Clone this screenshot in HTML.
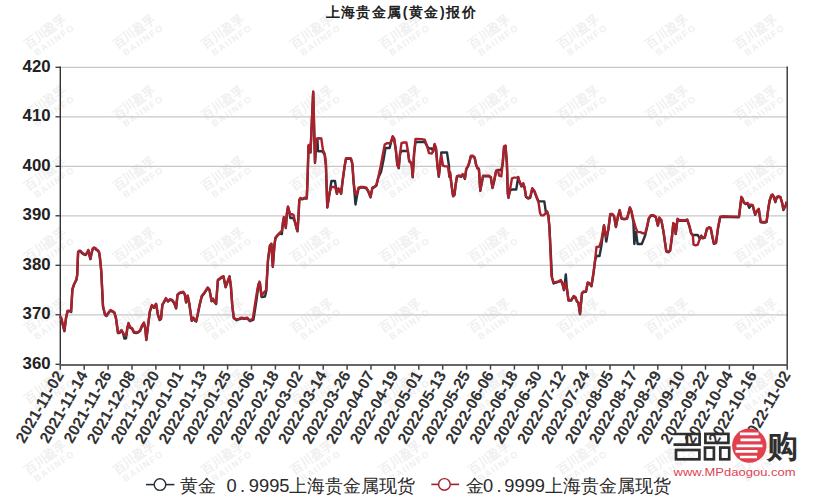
<!DOCTYPE html>
<html><head><meta charset="utf-8"><style>
html,body{margin:0;padding:0;background:#fff;}
svg{display:block;font-family:"Liberation Sans",sans-serif;}
</style></head><body>
<svg width="820" height="500" viewBox="0 0 820 500">
<g transform="translate(48.0,36.0) rotate(-35)" fill="#f0f0f0" font-family="Liberation Sans"><text x="0" y="-1" font-size="12.4" text-anchor="middle" font-weight="bold">百川盈孚</text><text x="3" y="10" font-size="9" text-anchor="middle" letter-spacing="1.5" font-weight="bold">BAIINFO</text></g>
<g transform="translate(136.8,36.0) rotate(-35)" fill="#f0f0f0" font-family="Liberation Sans"><text x="0" y="-1" font-size="12.4" text-anchor="middle" font-weight="bold">百川盈孚</text><text x="3" y="10" font-size="9" text-anchor="middle" letter-spacing="1.5" font-weight="bold">BAIINFO</text></g>
<g transform="translate(225.6,36.0) rotate(-35)" fill="#f0f0f0" font-family="Liberation Sans"><text x="0" y="-1" font-size="12.4" text-anchor="middle" font-weight="bold">百川盈孚</text><text x="3" y="10" font-size="9" text-anchor="middle" letter-spacing="1.5" font-weight="bold">BAIINFO</text></g>
<g transform="translate(314.4,36.0) rotate(-35)" fill="#f0f0f0" font-family="Liberation Sans"><text x="0" y="-1" font-size="12.4" text-anchor="middle" font-weight="bold">百川盈孚</text><text x="3" y="10" font-size="9" text-anchor="middle" letter-spacing="1.5" font-weight="bold">BAIINFO</text></g>
<g transform="translate(403.2,36.0) rotate(-35)" fill="#f0f0f0" font-family="Liberation Sans"><text x="0" y="-1" font-size="12.4" text-anchor="middle" font-weight="bold">百川盈孚</text><text x="3" y="10" font-size="9" text-anchor="middle" letter-spacing="1.5" font-weight="bold">BAIINFO</text></g>
<g transform="translate(492.0,36.0) rotate(-35)" fill="#f0f0f0" font-family="Liberation Sans"><text x="0" y="-1" font-size="12.4" text-anchor="middle" font-weight="bold">百川盈孚</text><text x="3" y="10" font-size="9" text-anchor="middle" letter-spacing="1.5" font-weight="bold">BAIINFO</text></g>
<g transform="translate(580.8,36.0) rotate(-35)" fill="#f0f0f0" font-family="Liberation Sans"><text x="0" y="-1" font-size="12.4" text-anchor="middle" font-weight="bold">百川盈孚</text><text x="3" y="10" font-size="9" text-anchor="middle" letter-spacing="1.5" font-weight="bold">BAIINFO</text></g>
<g transform="translate(669.6,36.0) rotate(-35)" fill="#f0f0f0" font-family="Liberation Sans"><text x="0" y="-1" font-size="12.4" text-anchor="middle" font-weight="bold">百川盈孚</text><text x="3" y="10" font-size="9" text-anchor="middle" letter-spacing="1.5" font-weight="bold">BAIINFO</text></g>
<g transform="translate(758.4,36.0) rotate(-35)" fill="#f0f0f0" font-family="Liberation Sans"><text x="0" y="-1" font-size="12.4" text-anchor="middle" font-weight="bold">百川盈孚</text><text x="3" y="10" font-size="9" text-anchor="middle" letter-spacing="1.5" font-weight="bold">BAIINFO</text></g>
<g transform="translate(48.0,107.0) rotate(-35)" fill="#f0f0f0" font-family="Liberation Sans"><text x="0" y="-1" font-size="12.4" text-anchor="middle" font-weight="bold">百川盈孚</text><text x="3" y="10" font-size="9" text-anchor="middle" letter-spacing="1.5" font-weight="bold">BAIINFO</text></g>
<g transform="translate(136.8,107.0) rotate(-35)" fill="#f0f0f0" font-family="Liberation Sans"><text x="0" y="-1" font-size="12.4" text-anchor="middle" font-weight="bold">百川盈孚</text><text x="3" y="10" font-size="9" text-anchor="middle" letter-spacing="1.5" font-weight="bold">BAIINFO</text></g>
<g transform="translate(225.6,107.0) rotate(-35)" fill="#f0f0f0" font-family="Liberation Sans"><text x="0" y="-1" font-size="12.4" text-anchor="middle" font-weight="bold">百川盈孚</text><text x="3" y="10" font-size="9" text-anchor="middle" letter-spacing="1.5" font-weight="bold">BAIINFO</text></g>
<g transform="translate(314.4,107.0) rotate(-35)" fill="#f0f0f0" font-family="Liberation Sans"><text x="0" y="-1" font-size="12.4" text-anchor="middle" font-weight="bold">百川盈孚</text><text x="3" y="10" font-size="9" text-anchor="middle" letter-spacing="1.5" font-weight="bold">BAIINFO</text></g>
<g transform="translate(403.2,107.0) rotate(-35)" fill="#f0f0f0" font-family="Liberation Sans"><text x="0" y="-1" font-size="12.4" text-anchor="middle" font-weight="bold">百川盈孚</text><text x="3" y="10" font-size="9" text-anchor="middle" letter-spacing="1.5" font-weight="bold">BAIINFO</text></g>
<g transform="translate(492.0,107.0) rotate(-35)" fill="#f0f0f0" font-family="Liberation Sans"><text x="0" y="-1" font-size="12.4" text-anchor="middle" font-weight="bold">百川盈孚</text><text x="3" y="10" font-size="9" text-anchor="middle" letter-spacing="1.5" font-weight="bold">BAIINFO</text></g>
<g transform="translate(580.8,107.0) rotate(-35)" fill="#f0f0f0" font-family="Liberation Sans"><text x="0" y="-1" font-size="12.4" text-anchor="middle" font-weight="bold">百川盈孚</text><text x="3" y="10" font-size="9" text-anchor="middle" letter-spacing="1.5" font-weight="bold">BAIINFO</text></g>
<g transform="translate(669.6,107.0) rotate(-35)" fill="#f0f0f0" font-family="Liberation Sans"><text x="0" y="-1" font-size="12.4" text-anchor="middle" font-weight="bold">百川盈孚</text><text x="3" y="10" font-size="9" text-anchor="middle" letter-spacing="1.5" font-weight="bold">BAIINFO</text></g>
<g transform="translate(758.4,107.0) rotate(-35)" fill="#f0f0f0" font-family="Liberation Sans"><text x="0" y="-1" font-size="12.4" text-anchor="middle" font-weight="bold">百川盈孚</text><text x="3" y="10" font-size="9" text-anchor="middle" letter-spacing="1.5" font-weight="bold">BAIINFO</text></g>
<g transform="translate(48.0,178.0) rotate(-35)" fill="#f0f0f0" font-family="Liberation Sans"><text x="0" y="-1" font-size="12.4" text-anchor="middle" font-weight="bold">百川盈孚</text><text x="3" y="10" font-size="9" text-anchor="middle" letter-spacing="1.5" font-weight="bold">BAIINFO</text></g>
<g transform="translate(136.8,178.0) rotate(-35)" fill="#f0f0f0" font-family="Liberation Sans"><text x="0" y="-1" font-size="12.4" text-anchor="middle" font-weight="bold">百川盈孚</text><text x="3" y="10" font-size="9" text-anchor="middle" letter-spacing="1.5" font-weight="bold">BAIINFO</text></g>
<g transform="translate(225.6,178.0) rotate(-35)" fill="#f0f0f0" font-family="Liberation Sans"><text x="0" y="-1" font-size="12.4" text-anchor="middle" font-weight="bold">百川盈孚</text><text x="3" y="10" font-size="9" text-anchor="middle" letter-spacing="1.5" font-weight="bold">BAIINFO</text></g>
<g transform="translate(314.4,178.0) rotate(-35)" fill="#f0f0f0" font-family="Liberation Sans"><text x="0" y="-1" font-size="12.4" text-anchor="middle" font-weight="bold">百川盈孚</text><text x="3" y="10" font-size="9" text-anchor="middle" letter-spacing="1.5" font-weight="bold">BAIINFO</text></g>
<g transform="translate(403.2,178.0) rotate(-35)" fill="#f0f0f0" font-family="Liberation Sans"><text x="0" y="-1" font-size="12.4" text-anchor="middle" font-weight="bold">百川盈孚</text><text x="3" y="10" font-size="9" text-anchor="middle" letter-spacing="1.5" font-weight="bold">BAIINFO</text></g>
<g transform="translate(492.0,178.0) rotate(-35)" fill="#f0f0f0" font-family="Liberation Sans"><text x="0" y="-1" font-size="12.4" text-anchor="middle" font-weight="bold">百川盈孚</text><text x="3" y="10" font-size="9" text-anchor="middle" letter-spacing="1.5" font-weight="bold">BAIINFO</text></g>
<g transform="translate(580.8,178.0) rotate(-35)" fill="#f0f0f0" font-family="Liberation Sans"><text x="0" y="-1" font-size="12.4" text-anchor="middle" font-weight="bold">百川盈孚</text><text x="3" y="10" font-size="9" text-anchor="middle" letter-spacing="1.5" font-weight="bold">BAIINFO</text></g>
<g transform="translate(669.6,178.0) rotate(-35)" fill="#f0f0f0" font-family="Liberation Sans"><text x="0" y="-1" font-size="12.4" text-anchor="middle" font-weight="bold">百川盈孚</text><text x="3" y="10" font-size="9" text-anchor="middle" letter-spacing="1.5" font-weight="bold">BAIINFO</text></g>
<g transform="translate(758.4,178.0) rotate(-35)" fill="#f0f0f0" font-family="Liberation Sans"><text x="0" y="-1" font-size="12.4" text-anchor="middle" font-weight="bold">百川盈孚</text><text x="3" y="10" font-size="9" text-anchor="middle" letter-spacing="1.5" font-weight="bold">BAIINFO</text></g>
<g transform="translate(48.0,249.0) rotate(-35)" fill="#f0f0f0" font-family="Liberation Sans"><text x="0" y="-1" font-size="12.4" text-anchor="middle" font-weight="bold">百川盈孚</text><text x="3" y="10" font-size="9" text-anchor="middle" letter-spacing="1.5" font-weight="bold">BAIINFO</text></g>
<g transform="translate(136.8,249.0) rotate(-35)" fill="#f0f0f0" font-family="Liberation Sans"><text x="0" y="-1" font-size="12.4" text-anchor="middle" font-weight="bold">百川盈孚</text><text x="3" y="10" font-size="9" text-anchor="middle" letter-spacing="1.5" font-weight="bold">BAIINFO</text></g>
<g transform="translate(225.6,249.0) rotate(-35)" fill="#f0f0f0" font-family="Liberation Sans"><text x="0" y="-1" font-size="12.4" text-anchor="middle" font-weight="bold">百川盈孚</text><text x="3" y="10" font-size="9" text-anchor="middle" letter-spacing="1.5" font-weight="bold">BAIINFO</text></g>
<g transform="translate(314.4,249.0) rotate(-35)" fill="#f0f0f0" font-family="Liberation Sans"><text x="0" y="-1" font-size="12.4" text-anchor="middle" font-weight="bold">百川盈孚</text><text x="3" y="10" font-size="9" text-anchor="middle" letter-spacing="1.5" font-weight="bold">BAIINFO</text></g>
<g transform="translate(403.2,249.0) rotate(-35)" fill="#f0f0f0" font-family="Liberation Sans"><text x="0" y="-1" font-size="12.4" text-anchor="middle" font-weight="bold">百川盈孚</text><text x="3" y="10" font-size="9" text-anchor="middle" letter-spacing="1.5" font-weight="bold">BAIINFO</text></g>
<g transform="translate(492.0,249.0) rotate(-35)" fill="#f0f0f0" font-family="Liberation Sans"><text x="0" y="-1" font-size="12.4" text-anchor="middle" font-weight="bold">百川盈孚</text><text x="3" y="10" font-size="9" text-anchor="middle" letter-spacing="1.5" font-weight="bold">BAIINFO</text></g>
<g transform="translate(580.8,249.0) rotate(-35)" fill="#f0f0f0" font-family="Liberation Sans"><text x="0" y="-1" font-size="12.4" text-anchor="middle" font-weight="bold">百川盈孚</text><text x="3" y="10" font-size="9" text-anchor="middle" letter-spacing="1.5" font-weight="bold">BAIINFO</text></g>
<g transform="translate(669.6,249.0) rotate(-35)" fill="#f0f0f0" font-family="Liberation Sans"><text x="0" y="-1" font-size="12.4" text-anchor="middle" font-weight="bold">百川盈孚</text><text x="3" y="10" font-size="9" text-anchor="middle" letter-spacing="1.5" font-weight="bold">BAIINFO</text></g>
<g transform="translate(758.4,249.0) rotate(-35)" fill="#f0f0f0" font-family="Liberation Sans"><text x="0" y="-1" font-size="12.4" text-anchor="middle" font-weight="bold">百川盈孚</text><text x="3" y="10" font-size="9" text-anchor="middle" letter-spacing="1.5" font-weight="bold">BAIINFO</text></g>
<g transform="translate(48.0,320.0) rotate(-35)" fill="#f0f0f0" font-family="Liberation Sans"><text x="0" y="-1" font-size="12.4" text-anchor="middle" font-weight="bold">百川盈孚</text><text x="3" y="10" font-size="9" text-anchor="middle" letter-spacing="1.5" font-weight="bold">BAIINFO</text></g>
<g transform="translate(136.8,320.0) rotate(-35)" fill="#f0f0f0" font-family="Liberation Sans"><text x="0" y="-1" font-size="12.4" text-anchor="middle" font-weight="bold">百川盈孚</text><text x="3" y="10" font-size="9" text-anchor="middle" letter-spacing="1.5" font-weight="bold">BAIINFO</text></g>
<g transform="translate(225.6,320.0) rotate(-35)" fill="#f0f0f0" font-family="Liberation Sans"><text x="0" y="-1" font-size="12.4" text-anchor="middle" font-weight="bold">百川盈孚</text><text x="3" y="10" font-size="9" text-anchor="middle" letter-spacing="1.5" font-weight="bold">BAIINFO</text></g>
<g transform="translate(314.4,320.0) rotate(-35)" fill="#f0f0f0" font-family="Liberation Sans"><text x="0" y="-1" font-size="12.4" text-anchor="middle" font-weight="bold">百川盈孚</text><text x="3" y="10" font-size="9" text-anchor="middle" letter-spacing="1.5" font-weight="bold">BAIINFO</text></g>
<g transform="translate(403.2,320.0) rotate(-35)" fill="#f0f0f0" font-family="Liberation Sans"><text x="0" y="-1" font-size="12.4" text-anchor="middle" font-weight="bold">百川盈孚</text><text x="3" y="10" font-size="9" text-anchor="middle" letter-spacing="1.5" font-weight="bold">BAIINFO</text></g>
<g transform="translate(492.0,320.0) rotate(-35)" fill="#f0f0f0" font-family="Liberation Sans"><text x="0" y="-1" font-size="12.4" text-anchor="middle" font-weight="bold">百川盈孚</text><text x="3" y="10" font-size="9" text-anchor="middle" letter-spacing="1.5" font-weight="bold">BAIINFO</text></g>
<g transform="translate(580.8,320.0) rotate(-35)" fill="#f0f0f0" font-family="Liberation Sans"><text x="0" y="-1" font-size="12.4" text-anchor="middle" font-weight="bold">百川盈孚</text><text x="3" y="10" font-size="9" text-anchor="middle" letter-spacing="1.5" font-weight="bold">BAIINFO</text></g>
<g transform="translate(669.6,320.0) rotate(-35)" fill="#f0f0f0" font-family="Liberation Sans"><text x="0" y="-1" font-size="12.4" text-anchor="middle" font-weight="bold">百川盈孚</text><text x="3" y="10" font-size="9" text-anchor="middle" letter-spacing="1.5" font-weight="bold">BAIINFO</text></g>
<g transform="translate(758.4,320.0) rotate(-35)" fill="#f0f0f0" font-family="Liberation Sans"><text x="0" y="-1" font-size="12.4" text-anchor="middle" font-weight="bold">百川盈孚</text><text x="3" y="10" font-size="9" text-anchor="middle" letter-spacing="1.5" font-weight="bold">BAIINFO</text></g>
<g transform="translate(48.0,391.0) rotate(-35)" fill="#f0f0f0" font-family="Liberation Sans"><text x="0" y="-1" font-size="12.4" text-anchor="middle" font-weight="bold">百川盈孚</text><text x="3" y="10" font-size="9" text-anchor="middle" letter-spacing="1.5" font-weight="bold">BAIINFO</text></g>
<g transform="translate(136.8,391.0) rotate(-35)" fill="#f0f0f0" font-family="Liberation Sans"><text x="0" y="-1" font-size="12.4" text-anchor="middle" font-weight="bold">百川盈孚</text><text x="3" y="10" font-size="9" text-anchor="middle" letter-spacing="1.5" font-weight="bold">BAIINFO</text></g>
<g transform="translate(225.6,391.0) rotate(-35)" fill="#f0f0f0" font-family="Liberation Sans"><text x="0" y="-1" font-size="12.4" text-anchor="middle" font-weight="bold">百川盈孚</text><text x="3" y="10" font-size="9" text-anchor="middle" letter-spacing="1.5" font-weight="bold">BAIINFO</text></g>
<g transform="translate(314.4,391.0) rotate(-35)" fill="#f0f0f0" font-family="Liberation Sans"><text x="0" y="-1" font-size="12.4" text-anchor="middle" font-weight="bold">百川盈孚</text><text x="3" y="10" font-size="9" text-anchor="middle" letter-spacing="1.5" font-weight="bold">BAIINFO</text></g>
<g transform="translate(403.2,391.0) rotate(-35)" fill="#f0f0f0" font-family="Liberation Sans"><text x="0" y="-1" font-size="12.4" text-anchor="middle" font-weight="bold">百川盈孚</text><text x="3" y="10" font-size="9" text-anchor="middle" letter-spacing="1.5" font-weight="bold">BAIINFO</text></g>
<g transform="translate(492.0,391.0) rotate(-35)" fill="#f0f0f0" font-family="Liberation Sans"><text x="0" y="-1" font-size="12.4" text-anchor="middle" font-weight="bold">百川盈孚</text><text x="3" y="10" font-size="9" text-anchor="middle" letter-spacing="1.5" font-weight="bold">BAIINFO</text></g>
<g transform="translate(580.8,391.0) rotate(-35)" fill="#f0f0f0" font-family="Liberation Sans"><text x="0" y="-1" font-size="12.4" text-anchor="middle" font-weight="bold">百川盈孚</text><text x="3" y="10" font-size="9" text-anchor="middle" letter-spacing="1.5" font-weight="bold">BAIINFO</text></g>
<g transform="translate(669.6,391.0) rotate(-35)" fill="#f0f0f0" font-family="Liberation Sans"><text x="0" y="-1" font-size="12.4" text-anchor="middle" font-weight="bold">百川盈孚</text><text x="3" y="10" font-size="9" text-anchor="middle" letter-spacing="1.5" font-weight="bold">BAIINFO</text></g>
<g transform="translate(758.4,391.0) rotate(-35)" fill="#f0f0f0" font-family="Liberation Sans"><text x="0" y="-1" font-size="12.4" text-anchor="middle" font-weight="bold">百川盈孚</text><text x="3" y="10" font-size="9" text-anchor="middle" letter-spacing="1.5" font-weight="bold">BAIINFO</text></g>
<g transform="translate(48.0,462.0) rotate(-35)" fill="#f0f0f0" font-family="Liberation Sans"><text x="0" y="-1" font-size="12.4" text-anchor="middle" font-weight="bold">百川盈孚</text><text x="3" y="10" font-size="9" text-anchor="middle" letter-spacing="1.5" font-weight="bold">BAIINFO</text></g>
<g transform="translate(136.8,462.0) rotate(-35)" fill="#f0f0f0" font-family="Liberation Sans"><text x="0" y="-1" font-size="12.4" text-anchor="middle" font-weight="bold">百川盈孚</text><text x="3" y="10" font-size="9" text-anchor="middle" letter-spacing="1.5" font-weight="bold">BAIINFO</text></g>
<g transform="translate(225.6,462.0) rotate(-35)" fill="#f0f0f0" font-family="Liberation Sans"><text x="0" y="-1" font-size="12.4" text-anchor="middle" font-weight="bold">百川盈孚</text><text x="3" y="10" font-size="9" text-anchor="middle" letter-spacing="1.5" font-weight="bold">BAIINFO</text></g>
<g transform="translate(314.4,462.0) rotate(-35)" fill="#f0f0f0" font-family="Liberation Sans"><text x="0" y="-1" font-size="12.4" text-anchor="middle" font-weight="bold">百川盈孚</text><text x="3" y="10" font-size="9" text-anchor="middle" letter-spacing="1.5" font-weight="bold">BAIINFO</text></g>
<g transform="translate(403.2,462.0) rotate(-35)" fill="#f0f0f0" font-family="Liberation Sans"><text x="0" y="-1" font-size="12.4" text-anchor="middle" font-weight="bold">百川盈孚</text><text x="3" y="10" font-size="9" text-anchor="middle" letter-spacing="1.5" font-weight="bold">BAIINFO</text></g>
<g transform="translate(492.0,462.0) rotate(-35)" fill="#f0f0f0" font-family="Liberation Sans"><text x="0" y="-1" font-size="12.4" text-anchor="middle" font-weight="bold">百川盈孚</text><text x="3" y="10" font-size="9" text-anchor="middle" letter-spacing="1.5" font-weight="bold">BAIINFO</text></g>
<g transform="translate(580.8,462.0) rotate(-35)" fill="#f0f0f0" font-family="Liberation Sans"><text x="0" y="-1" font-size="12.4" text-anchor="middle" font-weight="bold">百川盈孚</text><text x="3" y="10" font-size="9" text-anchor="middle" letter-spacing="1.5" font-weight="bold">BAIINFO</text></g>
<g transform="translate(669.6,462.0) rotate(-35)" fill="#f0f0f0" font-family="Liberation Sans"><text x="0" y="-1" font-size="12.4" text-anchor="middle" font-weight="bold">百川盈孚</text><text x="3" y="10" font-size="9" text-anchor="middle" letter-spacing="1.5" font-weight="bold">BAIINFO</text></g>
<g transform="translate(758.4,462.0) rotate(-35)" fill="#f0f0f0" font-family="Liberation Sans"><text x="0" y="-1" font-size="12.4" text-anchor="middle" font-weight="bold">百川盈孚</text><text x="3" y="10" font-size="9" text-anchor="middle" letter-spacing="1.5" font-weight="bold">BAIINFO</text></g>
<line x1="60.3" y1="314.8" x2="787.2" y2="314.8" stroke="#c8c8c8" stroke-width="1.2"/>
<line x1="60.3" y1="265.3" x2="787.2" y2="265.3" stroke="#c8c8c8" stroke-width="1.2"/>
<line x1="60.3" y1="215.8" x2="787.2" y2="215.8" stroke="#c8c8c8" stroke-width="1.2"/>
<line x1="60.3" y1="166.3" x2="787.2" y2="166.3" stroke="#c8c8c8" stroke-width="1.2"/>
<line x1="60.3" y1="116.8" x2="787.2" y2="116.8" stroke="#c8c8c8" stroke-width="1.2"/>
<line x1="60.3" y1="67.3" x2="787.2" y2="67.3" stroke="#c8c8c8" stroke-width="1.2"/>
<line x1="55.5" y1="364.3" x2="60.3" y2="364.3" stroke="#333" stroke-width="1.3"/>
<text x="50.6" y="368.8" text-anchor="end" font-size="16.8" font-weight="bold" fill="#222">360</text>
<line x1="55.5" y1="314.8" x2="60.3" y2="314.8" stroke="#333" stroke-width="1.3"/>
<text x="50.6" y="319.3" text-anchor="end" font-size="16.8" font-weight="bold" fill="#222">370</text>
<line x1="55.5" y1="265.3" x2="60.3" y2="265.3" stroke="#333" stroke-width="1.3"/>
<text x="50.6" y="269.8" text-anchor="end" font-size="16.8" font-weight="bold" fill="#222">380</text>
<line x1="55.5" y1="215.8" x2="60.3" y2="215.8" stroke="#333" stroke-width="1.3"/>
<text x="50.6" y="220.3" text-anchor="end" font-size="16.8" font-weight="bold" fill="#222">390</text>
<line x1="55.5" y1="166.3" x2="60.3" y2="166.3" stroke="#333" stroke-width="1.3"/>
<text x="50.6" y="170.8" text-anchor="end" font-size="16.8" font-weight="bold" fill="#222">400</text>
<line x1="55.5" y1="116.8" x2="60.3" y2="116.8" stroke="#333" stroke-width="1.3"/>
<text x="50.6" y="121.3" text-anchor="end" font-size="16.8" font-weight="bold" fill="#222">410</text>
<line x1="55.5" y1="67.3" x2="60.3" y2="67.3" stroke="#333" stroke-width="1.3"/>
<text x="50.6" y="71.8" text-anchor="end" font-size="16.8" font-weight="bold" fill="#222">420</text>
<line x1="60.3" y1="66.5" x2="60.3" y2="364.9" stroke="#333" stroke-width="1.4"/>
<line x1="787.2" y1="66.5" x2="787.2" y2="364.9" stroke="#333" stroke-width="1.4"/>
<line x1="59.599999999999994" y1="364.95" x2="787.9000000000001" y2="364.95" stroke="#666" stroke-width="2"/>
<line x1="60.3" y1="364.95" x2="60.3" y2="369.65" stroke="#444" stroke-width="1.5"/>
<text transform="translate(64.3,374.9) rotate(-60)" text-anchor="end" font-size="15.8" font-weight="bold" fill="#333">2021-11-02</text>
<line x1="84.2" y1="364.95" x2="84.2" y2="369.65" stroke="#444" stroke-width="1.5"/>
<text transform="translate(88.2,374.9) rotate(-60)" text-anchor="end" font-size="15.8" font-weight="bold" fill="#333">2021-11-14</text>
<line x1="108.1" y1="364.95" x2="108.1" y2="369.65" stroke="#444" stroke-width="1.5"/>
<text transform="translate(112.1,374.9) rotate(-60)" text-anchor="end" font-size="15.8" font-weight="bold" fill="#333">2021-11-26</text>
<line x1="132.0" y1="364.95" x2="132.0" y2="369.65" stroke="#444" stroke-width="1.5"/>
<text transform="translate(136.0,374.9) rotate(-60)" text-anchor="end" font-size="15.8" font-weight="bold" fill="#333">2021-12-08</text>
<line x1="155.9" y1="364.95" x2="155.9" y2="369.65" stroke="#444" stroke-width="1.5"/>
<text transform="translate(159.9,374.9) rotate(-60)" text-anchor="end" font-size="15.8" font-weight="bold" fill="#333">2021-12-20</text>
<line x1="179.8" y1="364.95" x2="179.8" y2="369.65" stroke="#444" stroke-width="1.5"/>
<text transform="translate(183.8,374.9) rotate(-60)" text-anchor="end" font-size="15.8" font-weight="bold" fill="#333">2022-01-01</text>
<line x1="203.7" y1="364.95" x2="203.7" y2="369.65" stroke="#444" stroke-width="1.5"/>
<text transform="translate(207.7,374.9) rotate(-60)" text-anchor="end" font-size="15.8" font-weight="bold" fill="#333">2022-01-13</text>
<line x1="227.6" y1="364.95" x2="227.6" y2="369.65" stroke="#444" stroke-width="1.5"/>
<text transform="translate(231.6,374.9) rotate(-60)" text-anchor="end" font-size="15.8" font-weight="bold" fill="#333">2022-01-25</text>
<line x1="251.5" y1="364.95" x2="251.5" y2="369.65" stroke="#444" stroke-width="1.5"/>
<text transform="translate(255.5,374.9) rotate(-60)" text-anchor="end" font-size="15.8" font-weight="bold" fill="#333">2022-02-06</text>
<line x1="275.4" y1="364.95" x2="275.4" y2="369.65" stroke="#444" stroke-width="1.5"/>
<text transform="translate(279.4,374.9) rotate(-60)" text-anchor="end" font-size="15.8" font-weight="bold" fill="#333">2022-02-18</text>
<line x1="299.3" y1="364.95" x2="299.3" y2="369.65" stroke="#444" stroke-width="1.5"/>
<text transform="translate(303.3,374.9) rotate(-60)" text-anchor="end" font-size="15.8" font-weight="bold" fill="#333">2022-03-02</text>
<line x1="323.2" y1="364.95" x2="323.2" y2="369.65" stroke="#444" stroke-width="1.5"/>
<text transform="translate(327.2,374.9) rotate(-60)" text-anchor="end" font-size="15.8" font-weight="bold" fill="#333">2022-03-14</text>
<line x1="347.1" y1="364.95" x2="347.1" y2="369.65" stroke="#444" stroke-width="1.5"/>
<text transform="translate(351.1,374.9) rotate(-60)" text-anchor="end" font-size="15.8" font-weight="bold" fill="#333">2022-03-26</text>
<line x1="371.0" y1="364.95" x2="371.0" y2="369.65" stroke="#444" stroke-width="1.5"/>
<text transform="translate(375.0,374.9) rotate(-60)" text-anchor="end" font-size="15.8" font-weight="bold" fill="#333">2022-04-07</text>
<line x1="394.9" y1="364.95" x2="394.9" y2="369.65" stroke="#444" stroke-width="1.5"/>
<text transform="translate(398.9,374.9) rotate(-60)" text-anchor="end" font-size="15.8" font-weight="bold" fill="#333">2022-04-19</text>
<line x1="418.8" y1="364.95" x2="418.8" y2="369.65" stroke="#444" stroke-width="1.5"/>
<text transform="translate(422.8,374.9) rotate(-60)" text-anchor="end" font-size="15.8" font-weight="bold" fill="#333">2022-05-01</text>
<line x1="442.7" y1="364.95" x2="442.7" y2="369.65" stroke="#444" stroke-width="1.5"/>
<text transform="translate(446.7,374.9) rotate(-60)" text-anchor="end" font-size="15.8" font-weight="bold" fill="#333">2022-05-13</text>
<line x1="466.6" y1="364.95" x2="466.6" y2="369.65" stroke="#444" stroke-width="1.5"/>
<text transform="translate(470.6,374.9) rotate(-60)" text-anchor="end" font-size="15.8" font-weight="bold" fill="#333">2022-05-25</text>
<line x1="490.5" y1="364.95" x2="490.5" y2="369.65" stroke="#444" stroke-width="1.5"/>
<text transform="translate(494.5,374.9) rotate(-60)" text-anchor="end" font-size="15.8" font-weight="bold" fill="#333">2022-06-06</text>
<line x1="514.4" y1="364.95" x2="514.4" y2="369.65" stroke="#444" stroke-width="1.5"/>
<text transform="translate(518.4,374.9) rotate(-60)" text-anchor="end" font-size="15.8" font-weight="bold" fill="#333">2022-06-18</text>
<line x1="538.3" y1="364.95" x2="538.3" y2="369.65" stroke="#444" stroke-width="1.5"/>
<text transform="translate(542.3,374.9) rotate(-60)" text-anchor="end" font-size="15.8" font-weight="bold" fill="#333">2022-06-30</text>
<line x1="562.2" y1="364.95" x2="562.2" y2="369.65" stroke="#444" stroke-width="1.5"/>
<text transform="translate(566.2,374.9) rotate(-60)" text-anchor="end" font-size="15.8" font-weight="bold" fill="#333">2022-07-12</text>
<line x1="586.1" y1="364.95" x2="586.1" y2="369.65" stroke="#444" stroke-width="1.5"/>
<text transform="translate(590.1,374.9) rotate(-60)" text-anchor="end" font-size="15.8" font-weight="bold" fill="#333">2022-07-24</text>
<line x1="610.0" y1="364.95" x2="610.0" y2="369.65" stroke="#444" stroke-width="1.5"/>
<text transform="translate(614.0,374.9) rotate(-60)" text-anchor="end" font-size="15.8" font-weight="bold" fill="#333">2022-08-05</text>
<line x1="633.9" y1="364.95" x2="633.9" y2="369.65" stroke="#444" stroke-width="1.5"/>
<text transform="translate(637.9,374.9) rotate(-60)" text-anchor="end" font-size="15.8" font-weight="bold" fill="#333">2022-08-17</text>
<line x1="657.8" y1="364.95" x2="657.8" y2="369.65" stroke="#444" stroke-width="1.5"/>
<text transform="translate(661.8,374.9) rotate(-60)" text-anchor="end" font-size="15.8" font-weight="bold" fill="#333">2022-08-29</text>
<line x1="681.7" y1="364.95" x2="681.7" y2="369.65" stroke="#444" stroke-width="1.5"/>
<text transform="translate(685.7,374.9) rotate(-60)" text-anchor="end" font-size="15.8" font-weight="bold" fill="#333">2022-09-10</text>
<line x1="705.5" y1="364.95" x2="705.5" y2="369.65" stroke="#444" stroke-width="1.5"/>
<text transform="translate(709.5,374.9) rotate(-60)" text-anchor="end" font-size="15.8" font-weight="bold" fill="#333">2022-09-22</text>
<line x1="729.4" y1="364.95" x2="729.4" y2="369.65" stroke="#444" stroke-width="1.5"/>
<text transform="translate(733.4,374.9) rotate(-60)" text-anchor="end" font-size="15.8" font-weight="bold" fill="#333">2022-10-04</text>
<line x1="753.3" y1="364.95" x2="753.3" y2="369.65" stroke="#444" stroke-width="1.5"/>
<text transform="translate(757.3,374.9) rotate(-60)" text-anchor="end" font-size="15.8" font-weight="bold" fill="#333">2022-10-16</text>
<line x1="787.2" y1="364.95" x2="787.2" y2="369.65" stroke="#444" stroke-width="1.5"/>
<text transform="translate(791.2,374.9) rotate(-60)" text-anchor="end" font-size="15.8" font-weight="bold" fill="#333">2022-11-02</text>
<polyline points="60.0,316.6 61.2,318.4 64.4,331.2 66.0,318.4 67.6,311.2 70.0,311.2 71.1,312.0 72.4,289.6 74.0,284.8 76.4,280.0 77.2,275.2 78.1,252.6 79.0,251.4 80.5,251.4 82.0,253.2 83.8,254.4 85.6,255.0 87.4,252.6 88.3,250.5 89.2,254.4 90.4,259.2 91.6,253.2 92.8,249.0 94.0,248.1 95.2,248.4 96.4,249.9 97.9,250.8 99.1,252.6 100.0,258.6 101.2,270.6 103.0,306.6 105.0,315.1 106.5,316.1 108.5,313.1 110.5,310.6 112.5,311.6 114.5,313.1 116.0,318.6 118.0,333.1 119.5,333.1 121.5,330.6 123.0,333.1 124.5,338.6 126.0,338.3 127.5,327.6 128.5,323.6 130.0,327.6 132.0,328.6 134.0,332.6 136.0,333.1 138.0,332.6 140.0,331.1 142.1,326.0 143.9,323.2 145.3,328.8 146.3,340.0 147.7,328.8 149.8,312.0 151.9,305.7 154.0,307.8 156.1,304.3 157.9,314.8 159.6,320.1 161.0,319.0 162.4,305.0 164.1,302.2 165.9,298.7 168.0,301.5 170.1,299.7 172.5,300.8 174.3,303.6 176.1,308.5 177.5,295.2 179.2,293.5 181.3,292.7 183.4,292.4 184.8,294.6 186.1,302.6 187.7,296.1 189.2,303.4 190.6,313.2 191.7,320.9 193.4,318.1 195.1,320.9 196.2,321.6 197.6,315.3 199.7,304.8 201.8,296.4 204.6,292.9 207.7,288.0 209.5,290.1 211.6,301.3 213.0,299.2 214.4,302.0 216.1,304.1 217.9,280.3 220.0,278.9 221.7,277.5 223.5,276.8 225.6,287.3 227.7,281.7 229.5,276.8 230.9,286.6 232.3,306.2 233.8,318.3 236.7,320.2 239.5,319.2 241.4,318.3 244.3,318.9 247.1,318.3 250.0,321.2 253.5,319.6 256.5,300.0 258.6,284.0 260.0,283.0 261.6,297.0 265.0,296.5 266.3,291.0 268.0,260.3 269.9,246.1 271.4,244.2 272.8,267.0 274.5,244.6 275.5,238.1 277.5,235.7 279.7,233.5 281.9,234.0 283.0,222.5 283.9,217.6 285.0,222.5 285.8,228.0 286.9,213.7 288.0,207.1 289.0,211.0 290.4,218.0 293.3,218.0 295.1,222.5 296.4,228.0 297.5,231.3 298.4,218.1 299.3,200.5 300.4,198.5 302.3,199.4 304.5,198.3 306.8,198.6 307.7,174.8 308.5,145.9 309.9,145.1 310.5,152.6 313.2,92.1 315.0,162.9 316.5,141.0 317.5,140.0 318.0,151.3 322.5,151.3 324.7,155.0 325.9,165.0 327.3,207.6 329.5,193.6 331.4,181.0 335.0,181.0 336.9,193.9 338.3,189.0 339.7,190.4 341.1,193.9 342.5,182.0 344.6,166.6 346.0,158.9 348.1,158.9 350.9,158.9 352.3,163.8 353.7,183.4 355.5,204.5 356.8,197.0 358.6,188.3 360.7,187.6 363.5,187.6 366.3,188.3 368.4,191.8 370.5,197.4 372.4,188.1 374.5,187.1 376.3,185.8 378.4,177.4 381.0,172.0 383.5,160.0 385.5,148.0 389.6,148.0 391.0,142.4 392.7,136.8 394.1,138.9 395.9,150.8 397.3,164.8 398.7,168.3 400.1,153.6 401.5,151.0 406.4,151.0 407.8,150.8 409.2,161.3 410.6,162.7 411.7,164.8 412.7,177.4 414.1,153.6 415.5,142.0 424.8,142.0 426.9,146.0 429.0,148.5 431.8,148.5 433.2,151.6 434.6,144.6 436.0,148.8 437.4,165.6 438.8,176.8 440.2,164.2 441.3,152.5 447.0,152.5 449.0,166.0 449.3,176.8 450.0,172.6 451.7,186.6 453.1,196.4 454.5,195.0 455.6,185.2 457.0,176.8 459.1,176.1 461.2,176.8 462.6,174.7 463.5,175.5 464.9,179.0 466.3,169.2 467.7,167.1 469.1,163.6 470.9,156.3 472.9,156.3 474.7,158.0 476.1,165.0 477.5,168.5 478.9,169.2 480.3,190.9 481.7,183.2 483.1,176.2 485.9,176.2 488.7,176.2 490.8,177.6 492.5,188.1 494.3,180.4 496.1,171.3 497.8,170.0 501.3,170.0 502.7,163.6 504.1,146.8 505.5,146.1 506.9,163.6 507.8,193.6 508.5,197.8 509.9,190.8 512.0,189.5 516.2,189.5 518.3,177.0 518.3,178.2 519.7,182.4 521.5,186.6 523.2,183.8 524.6,188.0 526.0,197.1 528.1,198.5 530.2,197.8 532.3,188.7 534.4,191.5 536.5,197.1 538.6,201.4 544.3,201.4 546.0,213.0 547.0,211.8 548.4,216.0 549.5,228.6 550.8,253.0 552.0,278.0 553.6,283.5 556.0,282.6 558.4,281.9 560.8,280.6 562.4,283.6 564.0,290.2 565.8,274.4 566.9,288.6 568.5,300.6 571.2,300.6 573.6,296.6 575.2,297.4 576.8,301.4 578.4,303.0 580.0,314.2 582.0,293.4 583.5,292.1 586.0,291.8 587.7,283.0 589.6,283.8 591.5,286.2 593.6,272.6 595.2,259.8 596.5,256.0 599.5,256.0 601.2,247.0 604.0,225.7 606.3,241.5 608.2,230.6 610.3,214.5 612.4,214.5 614.1,216.6 615.9,227.1 618.0,216.6 619.7,210.7 621.5,218.7 624.3,219.4 627.1,218.7 629.9,207.9 631.3,211.0 633.4,222.0 634.3,244.0 636.0,232.0 637.6,244.0 641.8,244.0 645.3,235.0 647.4,225.7 648.8,218.7 650.9,215.9 653.7,215.9 655.8,217.3 657.9,225.7 659.3,218.0 661.4,220.8 663.5,232.0 666.3,251.6 668.4,252.3 670.1,250.9 671.9,237.6 673.3,223.6 674.7,225.0 675.7,234.1 677.5,219.4 679.6,220.8 682.4,220.8 685.2,220.8 687.3,220.1 689.4,226.4 691.1,233.4 692.9,235.0 697.8,235.0 699.9,239.0 701.3,236.2 702.7,238.3 704.8,237.6 706.9,229.2 709.0,227.8 710.7,228.5 712.5,237.6 713.9,243.9 716.0,243.2 718.1,227.8 720.2,217.3 723.0,216.9 730.0,217.1 739.0,217.2 741.4,197.4 742.6,199.2 743.8,202.8 745.6,204.0 747.4,203.4 749.2,207.8 751.0,205.2 752.8,205.8 754.0,210.6 755.2,214.8 757.0,211.2 758.8,209.4 760.6,222.0 762.4,222.6 764.8,222.6 766.6,222.0 768.4,208.2 769.6,201.0 771.4,195.6 772.6,195.0 773.8,197.4 775.4,202.2 776.8,197.4 778.6,196.8 780.4,197.4 782.2,203.4 783.4,210.0 784.6,207.6 785.8,205.8 786.6,202.2" fill="none" stroke="#27313d" stroke-width="2.4" stroke-linejoin="round"/>
<polyline points="60.0,316.0 61.2,317.8 64.4,330.6 66.0,317.8 67.6,310.6 70.0,310.6 71.1,311.4 72.4,289.0 74.0,284.2 76.4,279.4 77.2,274.6 78.1,252.0 79.0,250.8 80.5,250.8 82.0,252.6 83.8,253.8 85.6,254.4 87.4,252.0 88.3,249.9 89.2,253.8 90.4,258.6 91.6,252.6 92.8,248.4 94.0,247.5 95.2,247.8 96.4,249.3 97.9,250.2 99.1,252.0 100.0,258.0 101.2,270.0 103.0,306.0 105.0,314.5 106.5,315.5 108.5,312.5 110.5,310.0 112.5,311.0 114.5,312.5 116.0,318.0 118.0,332.5 119.5,332.5 121.5,330.0 123.0,332.5 124.5,335.5 126.0,335.5 127.5,327.0 128.5,323.0 130.0,327.0 132.0,328.0 134.0,332.0 136.0,332.5 138.0,332.0 140.0,330.5 142.1,325.4 143.9,322.6 145.3,328.2 146.3,339.4 147.7,328.2 149.8,311.4 151.9,305.1 154.0,307.2 156.1,303.7 157.9,314.2 159.6,319.5 161.0,318.4 162.4,304.4 164.1,301.6 165.9,298.1 168.0,300.9 170.1,299.1 172.5,300.2 174.3,303.0 176.1,307.9 177.5,294.6 179.2,292.9 181.3,292.1 183.4,291.8 184.8,294.0 186.1,302.0 187.7,295.5 189.2,302.8 190.6,312.6 191.7,320.3 193.4,317.5 195.1,320.3 196.2,321.0 197.6,314.7 199.7,304.2 201.8,295.8 204.6,292.3 207.7,287.4 209.5,289.5 211.6,300.7 213.0,298.6 214.4,301.4 216.1,303.5 217.9,279.7 220.0,278.3 221.7,276.9 223.5,276.2 225.6,286.7 227.7,281.1 229.5,276.2 230.9,286.0 232.3,305.6 233.8,317.7 236.7,319.6 239.5,318.6 241.4,317.7 244.3,318.3 247.1,317.7 250.0,320.6 252.8,318.6 255.7,299.6 257.6,288.2 259.5,281.6 261.4,295.8 264.2,292.0 266.1,290.1 268.0,259.7 269.9,245.5 271.4,243.6 272.8,266.4 274.5,244.0 275.5,237.5 277.5,235.1 279.7,232.9 281.9,230.7 283.0,221.9 283.9,217.0 285.0,221.9 285.8,227.4 286.9,213.1 288.0,206.5 289.0,210.4 290.2,214.8 291.8,214.2 293.5,214.8 295.1,221.9 296.4,227.4 297.5,230.7 298.4,217.5 299.3,199.9 300.4,197.9 302.3,198.8 304.5,197.7 306.8,198.0 307.7,174.2 308.5,145.3 309.9,144.5 310.5,152.0 313.2,91.5 315.0,162.3 316.2,140.2 317.0,138.5 319.6,138.2 321.3,138.5 323.0,150.4 324.7,153.8 325.9,164.0 327.3,207.0 329.5,193.0 331.4,187.0 333.4,187.0 335.1,187.0 336.9,193.3 338.3,188.4 339.7,189.8 341.1,193.3 342.5,181.4 344.6,166.0 346.0,158.3 348.1,158.3 350.9,158.3 352.3,163.2 353.7,182.8 355.1,192.6 356.5,194.7 358.6,187.7 360.7,187.0 363.5,187.0 366.3,187.7 368.4,191.2 370.5,196.8 372.4,187.5 374.5,186.5 376.3,185.2 378.4,176.8 380.5,167.0 382.6,155.8 384.7,144.6 386.8,143.2 389.6,143.2 391.0,141.8 392.7,136.2 394.1,138.3 395.9,150.2 397.3,164.2 398.7,167.7 400.1,153.0 401.5,143.2 403.6,142.5 406.4,142.5 407.8,150.2 409.2,160.7 410.6,162.1 411.7,164.2 412.7,176.8 414.1,153.0 415.5,139.0 417.6,139.0 421.3,139.1 424.8,139.8 426.9,145.4 429.0,153.1 431.8,153.5 433.2,151.0 434.6,144.0 436.0,148.2 437.4,165.0 438.8,176.2 440.2,163.6 441.3,155.2 443.0,165.7 445.1,166.4 447.9,166.4 449.3,176.2 450.0,172.0 451.7,186.0 453.1,195.8 454.5,194.4 455.6,184.6 457.0,176.2 459.1,175.5 461.2,176.2 462.6,174.1 463.5,174.9 464.9,178.4 466.3,168.6 467.7,166.5 469.1,163.0 470.9,155.7 472.9,155.7 474.7,157.4 476.1,164.4 477.5,167.9 478.9,168.6 480.3,190.3 481.7,182.6 483.1,175.6 485.9,175.6 488.7,175.6 490.8,177.0 492.5,187.5 494.3,179.8 496.1,170.7 497.8,170.0 499.2,175.6 501.3,176.3 502.7,163.0 504.1,146.2 505.5,145.5 506.9,163.0 507.8,193.0 508.5,197.2 509.9,190.2 512.0,178.3 514.1,177.6 516.2,177.6 518.3,177.6 519.7,181.8 521.5,186.0 523.2,183.2 524.6,187.4 526.0,196.5 528.1,197.9 530.2,197.2 532.3,188.1 534.4,190.9 536.5,196.5 538.6,202.8 540.0,212.6 541.1,215.4 543.5,215.4 545.6,213.3 547.0,211.2 548.4,215.4 549.5,228.0 550.4,251.0 551.5,276.0 553.6,282.4 556.0,282.0 558.4,281.3 560.8,280.0 562.4,283.0 564.0,289.6 565.3,283.0 566.9,288.0 568.5,300.0 571.2,300.0 573.6,296.0 575.2,296.8 576.8,300.8 578.4,302.4 580.0,313.6 582.0,292.8 583.5,291.5 586.0,291.2 587.7,282.4 589.6,283.2 591.5,285.6 593.6,272.0 595.2,259.2 596.5,247.0 599.1,246.8 601.2,241.2 604.0,225.1 606.1,237.0 608.2,230.0 610.3,213.9 612.4,213.9 614.1,216.0 615.9,226.5 618.0,216.0 619.7,210.1 621.5,218.1 624.3,218.8 627.1,218.1 629.9,207.3 631.3,210.4 633.4,219.5 635.5,227.2 637.6,232.1 640.4,232.1 643.2,233.5 645.3,232.8 647.4,225.1 648.8,218.1 650.9,215.3 653.7,215.3 655.8,216.7 657.9,225.1 659.3,217.4 661.4,220.2 663.5,231.4 666.3,251.0 668.4,251.7 670.1,250.3 671.9,237.0 673.3,223.0 674.7,224.4 675.7,233.5 677.5,218.8 679.6,220.2 682.4,220.2 685.2,220.2 687.3,219.5 689.4,225.8 691.1,232.8 692.9,236.3 693.6,244.7 695.7,245.4 697.8,244.7 699.9,238.4 701.3,235.6 702.7,237.7 704.8,237.0 706.9,228.6 709.0,227.2 710.7,227.9 712.5,237.0 713.9,243.3 716.0,242.6 718.1,227.2 720.2,216.7 723.0,216.3 730.0,216.5 739.0,216.6 741.4,196.8 742.6,198.6 743.8,202.2 745.6,203.4 747.4,202.8 749.2,205.2 751.0,204.6 752.8,205.2 754.0,210.0 755.2,214.2 757.0,210.6 758.8,208.8 760.6,221.4 762.4,222.0 764.8,222.0 766.6,221.4 768.4,207.6 769.6,200.4 771.4,195.0 772.6,194.4 773.8,196.8 775.4,201.6 776.8,196.8 778.6,196.2 780.4,196.8 782.2,202.8 783.4,209.4 784.6,207.0 785.8,205.2 786.6,201.6" fill="none" stroke="#a9212a" stroke-width="2.4" stroke-linejoin="round"/>
<text x="325.5" y="17.3" font-size="14" font-weight="bold" fill="#222" textLength="150" lengthAdjust="spacing">上海贵金属(黄金)报价</text>
<g font-family="Liberation Serif,serif" font-size="18.3" fill="#2a2a2a" font-weight="300">
<line x1="146" y1="484.6" x2="174.4" y2="484.6" stroke="#27313d" stroke-width="1.6"/><circle cx="160" cy="484.6" r="5.8" fill="#fff" stroke="#27313d" stroke-width="1.4"/>
<text y="491.6"><tspan x="180">黄金</tspan><tspan x="226.6" font-family="Liberation Sans">0</tspan><tspan x="240" font-family="Liberation Sans">.</tspan><tspan x="248.8" font-family="Liberation Sans">9995</tspan><tspan x="288.6">上海贵金属现货</tspan></text>
<line x1="431.3" y1="484.4" x2="459.1" y2="484.4" stroke="#a41f2b" stroke-width="1.6"/><circle cx="444.4" cy="484.4" r="5.8" fill="#fff" stroke="#a41f2b" stroke-width="1.4"/>
<text y="491.6"><tspan x="465.5">金</tspan><tspan x="482.9" font-family="Liberation Sans">0</tspan><tspan x="496.5" font-family="Liberation Sans">.</tspan><tspan x="504.3" font-family="Liberation Sans">9999</tspan><tspan x="544.8">上海贵金属现货</tspan></text>
</g>
<g>
<circle cx="749.3" cy="445.6" r="17.2" fill="#e2404e"/>
<g stroke="#fff" stroke-width="2.7" fill="none" stroke-linecap="butt"><path d="M740 433.8 H758.5 M740.5 439.8 H760.5 M736.5 445.8 H762.5 M735.5 451.3 H757.5 M740 457 H757"/></g>
<g stroke="#2e2e2e" stroke-width="2.7" fill="none"><path d="M674 434 H699.6 V444.6 H673.5 M687 434 V444.6"/><rect x="676" y="450" width="23.4" height="9.3"/><rect x="705.4" y="433.9" width="23" height="9"/><rect x="705" y="447.6" width="8.9" height="11.7"/><rect x="720.3" y="447.6" width="8.9" height="11.7"/></g>
<text x="767.3" y="456.8" font-size="31" fill="#2e2e2e" font-weight="bold" textLength="31" lengthAdjust="spacingAndGlyphs">购</text>
<text x="673.5" y="476" font-size="11.6" fill="#dc4452" textLength="122" lengthAdjust="spacingAndGlyphs">www.MPdaogou.com</text>
</g>
</svg></body></html>
